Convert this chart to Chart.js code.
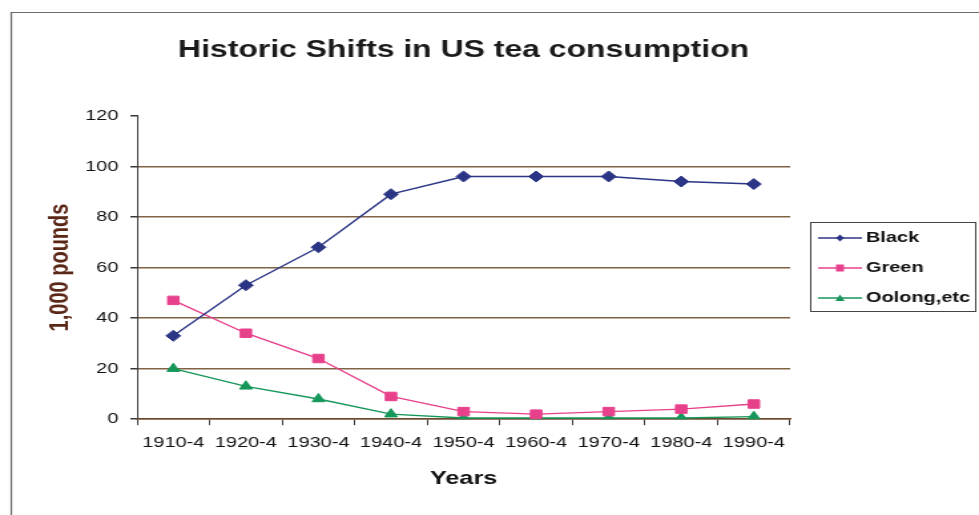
<!DOCTYPE html>
<html>
<head>
<meta charset="utf-8">
<script src="https://cdn.jsdelivr.net/npm/chart.js@4.4.0/dist/chart.umd.min.js"></script>
<style>
  html, body { margin: 0; padding: 0; background: #fff; overflow: hidden; }
</style>
</head>
<body>
<canvas id="c" width="736" height="515" style="width:979px;height:515px;display:block;"></canvas>
<script>
const categories = ['1910-4', '1920-4', '1930-4', '1940-4', '1950-4', '1960-4', '1970-4', '1980-4', '1990-4'];
const blackValues = [33, 53, 68, 89, 96, 96, 96, 94, 93];
const greenValues = [47, 34, 24, 9, 3, 2, 3, 4, 6];
const oolongValues = [20, 13, 8, 2, 0.5, 0.5, 0.5, 0.5, 1];
const yTicks = [0, 20, 40, 60, 80, 100, 120];

const seriesNames = ['Black', 'Green', 'Oolong,etc'];
const seriesColors = ['#2b3585', '#e8418c', '#16975a'];
const seriesMarkers = ['rectRot', 'rect', 'triangle'];

const FONT = 'Liberation Sans, Arial, sans-serif';

function legendSymbol(color, marker) {
  const cv = document.createElement('canvas');
  cv.width = 33; cv.height = 12;
  const g = cv.getContext('2d');
  g.strokeStyle = color; g.lineWidth = 1.3;
  g.beginPath(); g.moveTo(0, 6); g.lineTo(33, 6); g.stroke();
  g.fillStyle = color;
  g.beginPath();
  const cx = 16.5;
  if (marker === 'rectRot') { g.moveTo(cx, 2.5); g.lineTo(cx + 3, 6); g.lineTo(cx, 9.5); g.lineTo(cx - 3, 6); g.closePath(); }
  else if (marker === 'rect') { g.rect(cx - 3, 2.5, 6, 7); }
  else { g.moveTo(cx, 2.5); g.lineTo(cx + 3.5, 9); g.lineTo(cx - 3.5, 9); g.closePath(); }
  g.fill();
  return cv;
}
const symbols = seriesColors.map((c, i) => legendSymbol(c, seriesMarkers[i]));

const legendPlace = {
  id: 'legendPlace',
  afterLayout(chart) {
    const lg = chart.legend;
    const dx = 619.5 - (lg.left + 15);
    lg.left += dx; lg.right += dx;
    const dy = 215.5 - lg.top;
    lg.top += dy; lg.bottom += dy;
  },
  afterDraw(chart) {
    const ctx = chart.ctx;
    ctx.save();
    ctx.strokeStyle = '#6b6b6b'; ctx.lineWidth = 1.2;
    ctx.beginPath(); ctx.moveTo(8.5, 515); ctx.lineTo(8.5, 12.5); ctx.lineTo(736, 12.5); ctx.stroke();
    const hb = chart.legend.legendHitBoxes;
    if (hb && hb.length) {
      const l = hb[0].left - 10.5, t = hb[0].top - 8.5;
      const b = hb[hb.length - 1].top + hb[hb.length - 1].height + 5;
      ctx.strokeStyle = '#444'; ctx.lineWidth = 1;
      ctx.strokeRect(Math.round(l) + 0.5, Math.round(t) + 0.5, 124, Math.round(b - t));
    }
    ctx.restore();
  }
};

const mkDs = (i, data, r) => ({
  label: seriesNames[i], data,
  borderColor: seriesColors[i], backgroundColor: seriesColors[i],
  borderWidth: 1.4, pointStyle: seriesMarkers[i],
  pointRadius: r, pointHoverRadius: r, pointBorderWidth: 1, tension: 0
});

new Chart(document.getElementById('c'), {
  type: 'line',
  data: { labels: categories, datasets: [mkDs(0, blackValues, 5.5), mkDs(1, greenValues, 6), mkDs(2, oolongValues, 5.5)] },
  options: {
    responsive: false, animation: false, devicePixelRatio: 1,
    layout: { padding: { left: 35, right: 12, top: 36, bottom: 25 } },
    plugins: {
      tooltip: { enabled: false },
      title: {
        display: true, fullSize: false, text: 'Historic Shifts in US tea consumption',
        color: '#1a1a1a', font: { family: FONT, size: 24, weight: 'bold' },
        padding: { top: 0, bottom: 51 }
      },
      legend: {
        position: 'right', align: 'start', maxWidth: 130,
        labels: {
          usePointStyle: true, pointStyleWidth: 24, boxHeight: 12, padding: 15,
          color: '#111', font: { family: FONT, size: 15, weight: 'bold' },
          generateLabels: (chart) => chart.data.datasets.map((d, i) => ({
            text: d.label, pointStyle: symbols[i], fillStyle: d.borderColor, strokeStyle: d.borderColor,
            lineWidth: 0, datasetIndex: i, fontColor: '#111'
          }))
        }
      }
    },
    scales: {
      x: {
        offset: true,
        grid: { offset: true, drawOnChartArea: false, drawTicks: true, tickLength: 6, tickColor: '#3a3a3a' },
        border: { color: '#6e4a2e', width: 1.5 },
        ticks: { color: '#111', font: { family: FONT, size: 15 }, padding: 9, maxRotation: 0, autoSkip: false },
        title: { display: true, text: 'Years', color: '#111', font: { family: FONT, size: 19, weight: 'bold' }, padding: { top: 6, bottom: 0 } }
      },
      y: {
        min: 0, max: 120,
        afterBuildTicks: (s) => { s.ticks = yTicks.map(v => ({ value: v })); },
        grid: {
          color: (c) => (c.tick && c.tick.value === 120 ? 'rgba(0,0,0,0)' : '#806244'),
          lineWidth: 1.5, tickLength: 5, tickColor: '#3a3a3a'
        },
        border: { color: '#3a3a3a', width: 1 },
        ticks: { color: '#111', font: { family: FONT, size: 15 }, padding: 9 },
        title: { display: true, text: '1,000 pounds', color: '#5a2616', font: { family: FONT, size: 20, weight: 'bold', lineHeight: 1 }, padding: { top: 0, bottom: 0 } }
      }
    }
  },
  plugins: [legendPlace]
});
</script>
</body>
</html>
